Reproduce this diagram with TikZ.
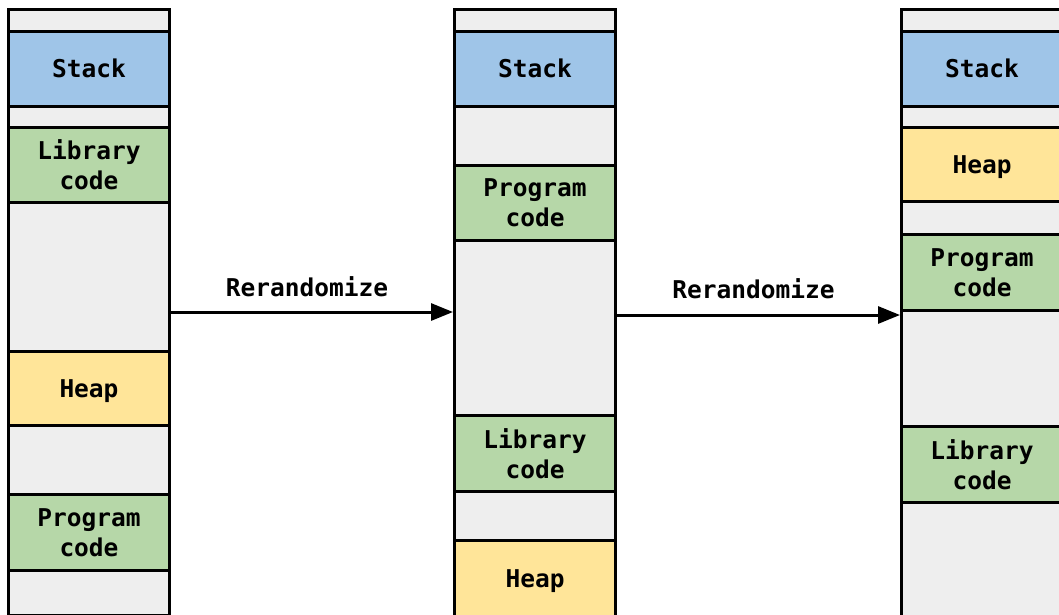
\documentclass[tikz,border=0pt]{standalone}
\usepackage{fontspec}
\setmonofont{DejaVu Sans Mono}
\usetikzlibrary{arrows.meta}

\definecolor{gapgray}{HTML}{EEEEEE}
\definecolor{stackblue}{HTML}{9FC5E8}
\definecolor{codegreen}{HTML}{B6D7A8}
\definecolor{heapyellow}{HTML}{FFE599}

\begin{document}
\begin{tikzpicture}[x=1pt,y=-1pt,
  txt/.style={font=\ttfamily\bfseries\fontsize{24.5}{30}\selectfont},
  column/.style={draw=black, line width=3pt, fill=gapgray, inner sep=0pt,
    outer sep=0pt, minimum width=161pt, anchor=north west},
  seg/.style={draw=black, line width=3pt, inner sep=0pt, outer sep=0pt,
    anchor=north west, minimum width=161pt, txt, align=center,
    text depth=0pt},
  stackseg/.style={seg, fill=stackblue},
  codeseg/.style={seg, fill=codegreen},
  heapseg/.style={seg, fill=heapyellow},
  move/.style={line width=3pt, shorten >=1.5pt,
    -{Triangle[length=22pt,width=17pt]}},
]
\useasboundingbox (0,0) rectangle (1059,614);
\clip (0,0) rectangle (1059,614);

% first layout
\node[column, minimum height=606pt] (col1) at (8.5,9) {};
\node[stackseg, minimum height=75pt]   (s1) at (8.5,31)  {Stack};
\node[codeseg,  minimum height=75pt]   (l1) at (8.5,127) {Library\\code};
\node[heapseg,  minimum height=74.5pt] (h1) at (8.5,351) {Heap};
\node[codeseg,  minimum height=75.5pt] (p1) at (8.5,494.5) {Program\\code};

% second layout
\node[column, minimum height=612pt] (col2) at (454.5,9) {};
\node[stackseg, minimum height=75pt]   (s2) at (454.5,31)  {Stack};
\node[codeseg,  minimum height=75pt]   (p2) at (454.5,165.2) {Program\\code};
\node[codeseg,  minimum height=75.7pt] (l2) at (454.5,415.3) {Library\\code};
\node[heapseg,  minimum height=77pt]   (h2) at (454.5,540.3) {Heap};

% third layout
\node[column, minimum height=612pt] (col3) at (901.5,9) {};
\node[stackseg, minimum height=75pt]   (s3) at (901.5,31)  {Stack};
\node[heapseg,  minimum height=74.5pt] (h3) at (901.5,127) {Heap};
\node[codeseg,  minimum height=75.6pt] (p3) at (901.5,234.7) {Program\\code};
\node[codeseg,  minimum height=75.7pt] (l3) at (901.5,426.3) {Library\\code};

% rerandomization steps
\draw[move] (col1.east) -- (col2.west |- col1.east)
  node[midway, txt, anchor=base, yshift=16pt, xshift=-5pt] (r1) {Rerandomize};
\draw[move] (col2.east) -- (col3.west)
  node[midway, txt, anchor=base, yshift=17pt, xshift=-5pt] (r2) {Rerandomize};
\end{tikzpicture}
\end{document}
